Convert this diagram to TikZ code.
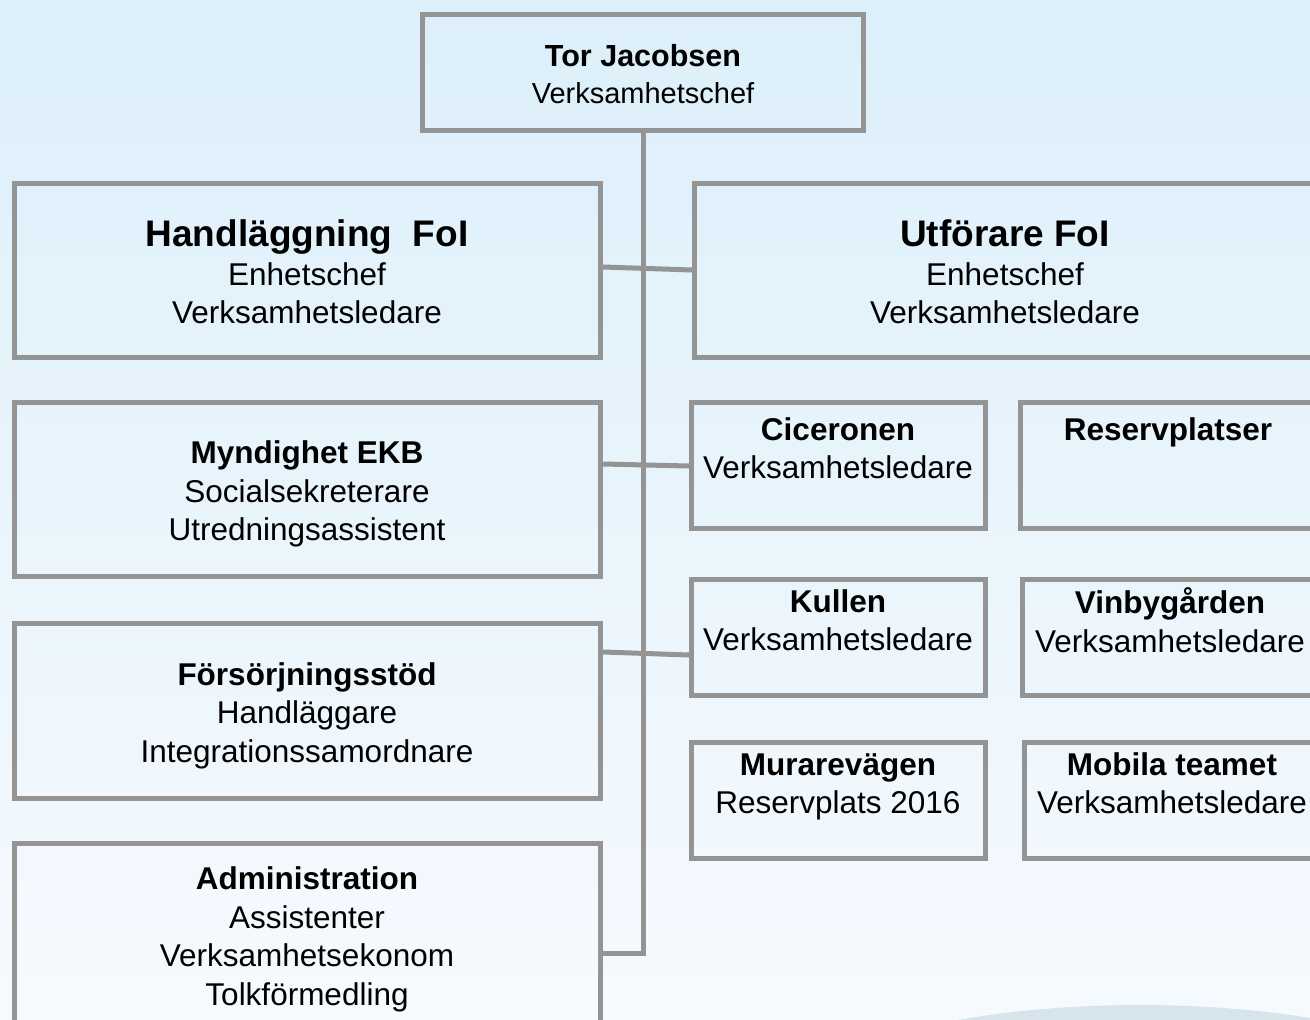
\documentclass[tikz,border=0pt]{standalone}
\usepackage{fontspec}
\setmainfont{Liberation Sans}
\definecolor{lineg}{RGB}{148,148,148}
\definecolor{bgtop}{RGB}{220,239,250}
\definecolor{bgbot}{RGB}{246,250,254}
\definecolor{arcc}{RGB}{214,228,235}
\begin{document}
\begin{tikzpicture}[x=1pt,y=-1pt,
  box/.style={draw=lineg,line width=5pt,rectangle,inner sep=0pt,fill=none},
  conn/.style={draw=lineg,line width=5pt},
  txt/.style={align=center,inner sep=0pt,font=\fontsize{31.5}{38.5}\selectfont},
  toptxt/.style={align=center,inner sep=0pt,font=\fontsize{29}{37}\selectfont}]
\useasboundingbox (0,0) rectangle (1310,1020);
\shade[top color=bgtop,bottom color=bgbot] (0,0) rectangle (1310,1020);
\clip (0,0) rectangle (1310,1020);
\fill[arcc] (1140,1142) ellipse [x radius=400,y radius=137];
% boxes
\node[box,minimum width=441pt,minimum height=116pt] (top) at (643,72.5) {};
\node[box,minimum width=586pt,minimum height=174pt] (hand) at (307.5,270.5) {};
\node[box,minimum width=626pt,minimum height=174pt] (utf) at (1007.5,270.5) {};
\node[box,minimum width=586pt,minimum height=174pt] (mynd) at (307.5,489.5) {};
\node[box,minimum width=294pt,minimum height=126pt] (cic) at (838.5,465.5) {};
\node[box,minimum width=300pt,minimum height=126pt] (res) at (1170.5,465.5) {};
\node[box,minimum width=586pt,minimum height=175pt] (fors) at (307.5,711) {};
\node[box,minimum width=294pt,minimum height=116pt] (kul) at (838.5,637.5) {};
\node[box,minimum width=298pt,minimum height=116pt] (vin) at (1171.5,637.5) {};
\node[box,minimum width=294pt,minimum height=116pt] (mur) at (838.5,800.5) {};
\node[box,minimum width=296pt,minimum height=116pt] (mob) at (1172.5,800.5) {};
\node[box,minimum width=586pt,minimum height=200pt] (adm) at (307.5,943) {};
% texts
\node[toptxt] (ttop) at (643,74) {{\fontsize{30.5}{37}\selectfont\bfseries Tor Jacobsen}\\Verksamhetschef};
\node[txt] (thand) at (307,272) {{\fontsize{37}{38.5}\selectfont\bfseries Handläggning~~FoI}\\Enhetschef\\Verksamhetsledare};
\node[txt] (tutf) at (1005,272) {{\fontsize{37}{38.5}\selectfont\bfseries Utförare FoI}\\Enhetschef\\Verksamhetsledare};
\node[txt] (tmynd) at (307,494) {\textbf{Myndighet EKB}\\Socialsekreterare\\Utredningsassistent};
\node[txt] (tcic) at (838,448) {\textbf{Ciceronen}\\Verksamhetsledare};
\node[txt] (tres) at (1168,432) {\textbf{Reservplatser}};
\node[txt] (tfors) at (307,715.5) {\textbf{Försörjningsstöd}\\Handläggare\\Integrationssamordnare};
\node[txt] (tkul) at (838,620) {\textbf{Kullen}\\Verksamhetsledare};
\node[txt] (tvin) at (1170,620) {\textbf{Vinbygården}\\Verksamhetsledare};
\node[txt] (tmur) at (838,787) {\textbf{Murarevägen}\\Reservplats 2016};
\node[txt] (tmob) at (1172,783) {\textbf{Mobila teamet}\\Verksamhetsledare};
\node[txt] (tadm) at (307,939.5) {\textbf{Administration}\\Assistenter\\Verksamhetsekonom\\Tolkförmedling};
% connectors
\coordinate (tb) at (643,953);
\draw[conn] (top.south) -- (tb) -- (adm.east |- tb);
\draw[conn] (hand.east |- 0,267) -- (utf.west |- 0,270);
\draw[conn] (mynd.east |- 0,464) -- (cic.west |- 0,466);
\draw[conn] (fors.east |- 0,652) -- (kul.west |- 0,655);
\end{tikzpicture}
\end{document}
